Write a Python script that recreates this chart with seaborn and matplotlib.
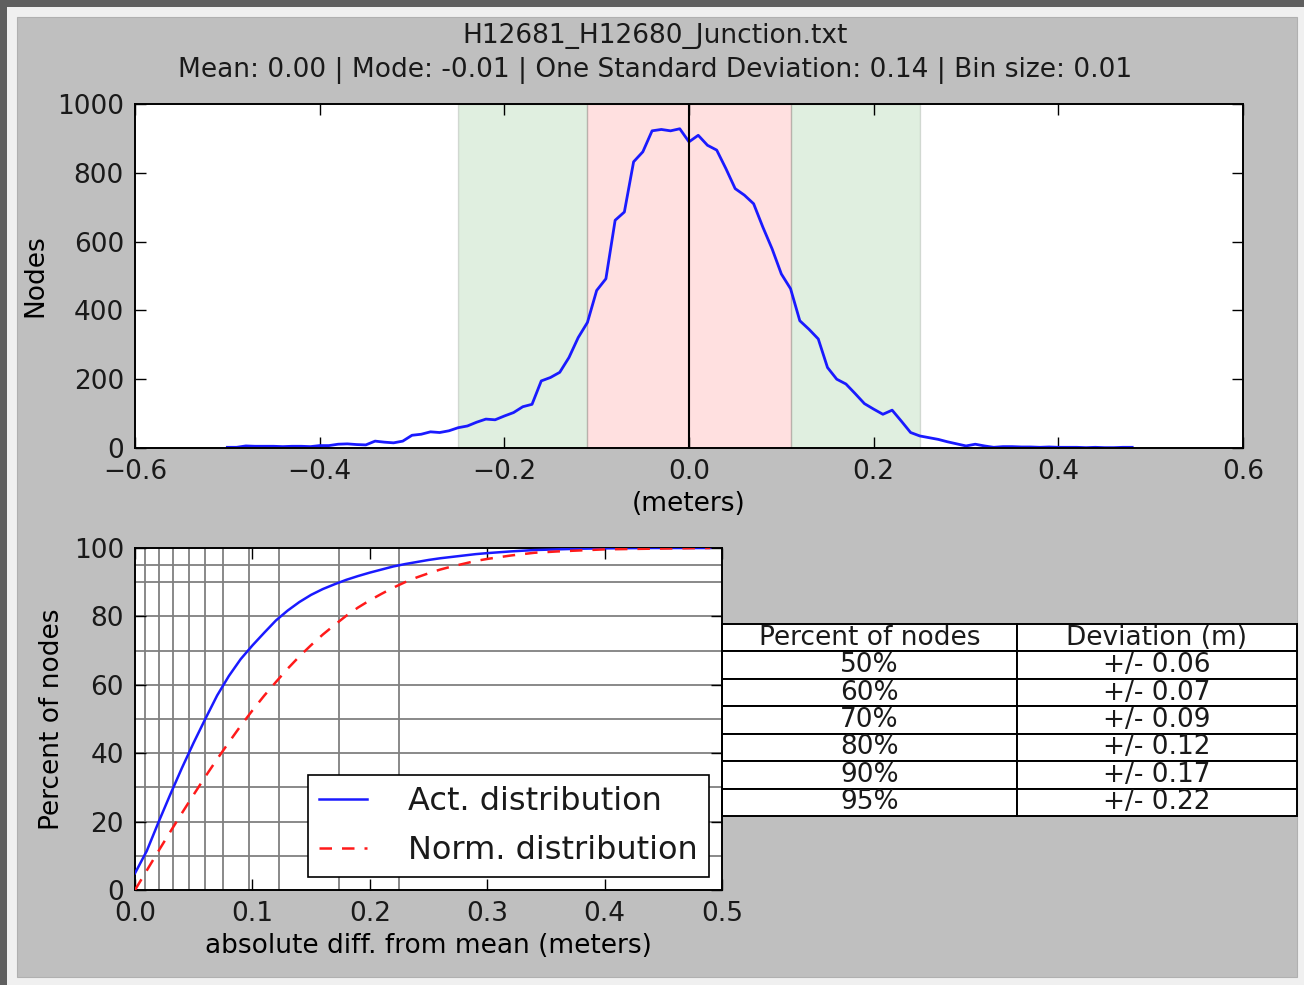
import numpy as np
import pandas as pd
import matplotlib
matplotlib.use('Agg')
import matplotlib.pyplot as plt
import seaborn as sns
from matplotlib.patches import Rectangle

# ---- values ----
file_name = 'H12681_H12680_Junction.txt'
mean_val = 0.00
mode_val = -0.01
std_val = 0.14
bin_size = 0.01
bin_first = -0.50

# node counts per bin, from -0.50 to 0.48
node_counts = [
    2, 2, 6, 5, 5, 5, 4, 5, 5, 4,
    7, 7, 11, 12, 10, 9, 20, 17, 15, 20,
    37, 40, 47, 45, 50, 59, 64, 75, 84, 82,
    93, 103, 120, 127, 195, 205, 220, 263, 321, 365,
    458, 492, 662, 686, 832, 861, 922, 926, 922, 928,
    890, 909, 880, 866, 812, 754, 735, 710, 642, 579,
    506, 463, 370, 345, 317, 234, 200, 186, 158, 129,
    113, 98, 110, 78, 45, 35, 30, 25, 18, 12,
    6, 11, 6, 2, 4, 4, 3, 3, 2, 3,
    2, 2, 2, 1, 2, 1, 1, 2, 2,
]
inner_band = (-0.11, 0.11)
outer_band = (-0.25, 0.25)

abs_diff = [0.00, 0.01, 0.02, 0.03, 0.04, 0.05, 0.06, 0.07, 0.08, 0.09,
            0.10, 0.11, 0.12, 0.13, 0.14, 0.15, 0.16, 0.17, 0.18, 0.19,
            0.20, 0.21, 0.22, 0.23, 0.24, 0.25, 0.26, 0.27, 0.28, 0.29,
            0.30, 0.32, 0.34, 0.36, 0.38, 0.40, 0.44, 0.49]
act_pct = [4.9, 11.4, 19.8, 27.9, 35.7, 43.1, 50.1, 56.9, 62.6, 67.5,
           71.5, 75.2, 78.8, 81.7, 84.2, 86.3, 88.0, 89.4, 90.7, 91.8,
           92.8, 93.7, 94.6, 95.3, 95.9, 96.5, 97.0, 97.4, 97.8, 98.2,
           98.5, 99.0, 99.4, 99.6, 99.8, 99.9, 100.0, 100.0]
norm_pct = [0.0, 5.7, 11.4, 17.0, 22.5, 27.9, 33.2, 38.3, 43.2, 48.0,
            52.5, 56.8, 60.8, 64.7, 68.3, 71.6, 74.7, 77.5, 80.2, 82.6,
            84.7, 86.6, 88.4, 90.0, 91.4, 92.6, 93.7, 94.6, 95.4, 96.2,
            96.8, 97.8, 98.6, 99.0, 99.3, 99.6, 99.8, 100.0]

pct_levels = [10, 20, 30, 40, 50, 60, 70, 80, 90, 95]
act_dev = [0.0083, 0.0203, 0.0326, 0.0458, 0.0598, 0.0748, 0.0967, 0.1223, 0.174, 0.2246]

table_header = ['Percent of nodes', 'Deviation (m)']
table_pct = ['50%', '60%', '70%', '80%', '90%', '95%']
table_dev = ['+/- 0.06', '+/- 0.07', '+/- 0.09', '+/- 0.12', '+/- 0.17', '+/- 0.22']

# ---- figure ----
plt.rcParams['font.family'] = ['DejaVu Sans']
plt.rcParams['font.size'] = 19
plt.rcParams['axes.unicode_minus'] = True
plt.rcParams['text.color'] = '#1a1a1a'
FS = 19

W, H = 1304, 985
fig = plt.figure(figsize=(W / 100, H / 100), dpi=100, facecolor='#f0f0f0')

# window-like frame around the gray canvas
fig.patches.append(Rectangle((0, 1 - 7 / H), 1, 7 / H, transform=fig.transFigure,
                             facecolor='#5f5f5f', edgecolor='none', zorder=-10))
fig.patches.append(Rectangle((0, 0), 7 / W, 1, transform=fig.transFigure,
                             facecolor='#5f5f5f', edgecolor='none', zorder=-10))
fig.patches.append(Rectangle((17 / W, 1 - 977 / H), (1297 - 17) / W, (977 - 17) / H,
                             transform=fig.transFigure, facecolor='#bfbfbf',
                             edgecolor='#b0b0b0', lw=0.8, zorder=-10))


def px_axes(left, top, right, bottom):
    return [left / W, 1 - bottom / H, (right - left) / W, (bottom - top) / H]


def style_axes(ax):
    ax.set_facecolor('white')
    for s in ax.spines.values():
        s.set_linewidth(1.4)
        s.set_color('black')
    ax.tick_params(direction='in', top=True, right=True, length=8, width=1,
                   labelsize=FS, pad=8, colors='black', labelcolor='#1a1a1a')


fig.text(0.502, 1 - 36 / H, file_name, ha='center', va='center', fontsize=FS)
fig.text(0.502, 1 - 70 / H,
         f'Mean: {mean_val:.2f} | Mode: {mode_val:.2f} | One Standard Deviation: {std_val:.2f} | '
         f'Bin size: {bin_size:.2f}', ha='center', va='center', fontsize=FS)

# ---- histogram line ----
ax1 = fig.add_axes(px_axes(135, 104, 1243, 448))
style_axes(ax1)
bins = bin_first + bin_size * np.arange(len(node_counts))
hist_df = pd.DataFrame({'meters': bins, 'nodes': node_counts})

ax1.axvspan(outer_band[0], inner_band[0], facecolor='g', edgecolor='k', alpha=0.12, lw=1)
ax1.axvspan(inner_band[1], outer_band[1], facecolor='g', edgecolor='k', alpha=0.12, lw=1)
ax1.axvspan(inner_band[0], inner_band[1], facecolor='r', edgecolor='k', alpha=0.12, lw=1)
sns.lineplot(data=hist_df, x='meters', y='nodes', ax=ax1, color='#1a1aff', lw=2.0)
ax1.axvline(mean_val, color='black', lw=1.5)
ax1.set_xlim(-0.6, 0.6)
ax1.set_ylim(0, 1000)
ax1.set_xticks(np.arange(-0.6, 0.61, 0.2))
ax1.set_yticks(np.arange(0, 1001, 200))
ax1.set_xlabel('(meters)', fontsize=FS, labelpad=4)
ax1.set_ylabel('Nodes', fontsize=FS, labelpad=6)

# ---- cumulative distribution ----
ax2 = fig.add_axes(px_axes(135, 548, 722, 890))
style_axes(ax2)
for p, d in zip(pct_levels, act_dev):
    ax2.axhline(p, color='#808080', lw=1.3, zorder=1)
    ax2.axvline(d, color='#808080', lw=1.3, zorder=1)
cdf_df = pd.DataFrame({'diff': abs_diff, 'act': act_pct, 'norm': norm_pct})
sns.lineplot(data=cdf_df, x='diff', y='act', ax=ax2, color='#1a1aff', lw=1.8,
             label='Act. distribution', zorder=3)
sns.lineplot(data=cdf_df, x='diff', y='norm', ax=ax2, color='#ff1a1a', lw=1.8,
             linestyle=(0, (5, 4)), label='Norm. distribution', zorder=3)
ax2.set_xlim(0, 0.5)
ax2.set_ylim(0, 100)
ax2.set_xticks(np.arange(0, 0.51, 0.1))
ax2.set_yticks(np.arange(0, 101, 20))
ax2.set_xlabel('absolute diff. from mean (meters)', fontsize=FS, labelpad=4)
ax2.set_ylabel('Percent of nodes', fontsize=FS, labelpad=6)
leg = ax2.legend(loc='lower right', fontsize=23, frameon=True, fancybox=False,
                 edgecolor='black', framealpha=1, handlelength=1.5,
                 borderaxespad=0.4, labelspacing=0.55, handletextpad=1.3,
                 borderpad=0.35)
leg.get_frame().set_linewidth(1.2)
leg.set_zorder(5)

# ---- percentile table ----
rows = [[a, b] for a, b in zip(table_pct, table_dev)]
x0 = (722 - 135) / 587
tbl = ax2.table(cellText=rows, colLabels=table_header, cellLoc='center',
                colWidths=[295 / 575, 280 / 575],
                bbox=[x0, (890 - 816) / 342, (1297 - 722) / 587, (816 - 624) / 342])
tbl.auto_set_font_size(False)
tbl.set_fontsize(FS)
for cell in tbl.get_celld().values():
    cell.set_edgecolor('black')
    cell.set_linewidth(1.4)
    cell.set_facecolor('white')
tbl.set_clip_on(False)

fig.savefig('out.png', dpi=100, facecolor=fig.get_facecolor())
